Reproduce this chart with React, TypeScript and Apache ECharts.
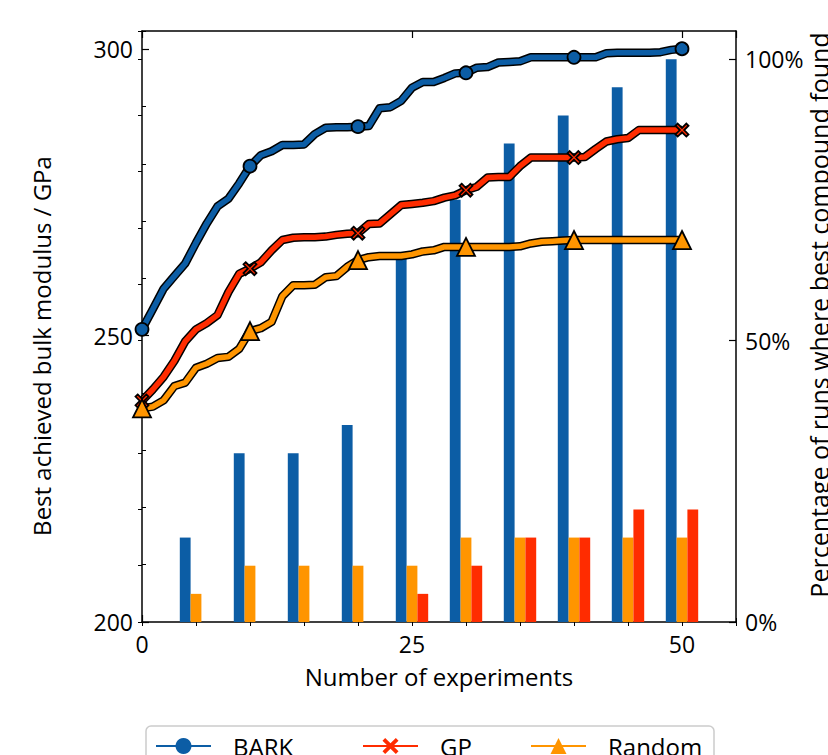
import React, { useEffect, useRef } from 'react';
import * as echarts from 'echarts';

// Experiment index (x) for the best-so-far curves
const experiments: number[] = Array.from({ length: 51 }, (_, i) => i);

const barkBest = [
  251.1, 254.6, 258.2, 260.4, 262.6, 266.2, 269.6, 272.6, 273.9, 276.6,
  279.6, 281.5, 282.2, 283.3, 283.3, 283.4, 285.2, 286.3, 286.4, 286.4,
  286.5, 286.6, 289.7, 289.9, 291.0, 293.3, 294.3, 294.3, 295.0, 295.8,
  295.9, 296.8, 296.9, 297.7, 297.8, 297.9, 298.6, 298.6, 298.6, 298.6,
  298.6, 298.6, 298.6, 299.3, 299.4, 299.4, 299.4, 299.4, 299.5, 299.9,
  300.1,
];
const gpBest = [
  238.6, 240.6, 242.8, 245.6, 249.0, 251.1, 252.2, 253.6, 257.6, 260.8,
  261.7, 262.8, 264.9, 266.7, 267.1, 267.2, 267.2, 267.3, 267.6, 267.8,
  267.9, 269.5, 269.6, 271.2, 272.8, 273.0, 273.2, 273.5, 274.1, 274.5,
  275.4, 276.0, 277.6, 277.7, 277.7, 279.6, 281.1, 281.1, 281.1, 281.1,
  281.1, 281.2, 282.6, 283.9, 284.3, 284.5, 285.9, 285.9, 285.9, 285.9,
  285.9,
];
const randomBest = [
  237.3, 237.6, 238.7, 241.2, 241.8, 244.4, 245.1, 246.1, 246.3, 247.7,
  250.8, 251.3, 252.4, 256.9, 258.8, 258.8, 258.9, 260.2, 260.4, 262.0,
  263.2, 263.7, 263.9, 263.9, 263.9, 264.2, 264.7, 264.9, 265.5, 265.5,
  265.5, 265.5, 265.5, 265.5, 265.5, 265.6, 266.1, 266.4, 266.5, 266.6,
  266.7, 266.7, 266.7, 266.7, 266.7, 266.7, 266.7, 266.7, 266.7, 266.7,
  266.7,
];

// Percentage of runs where the best compound was found, at checkpoints
const checkpoints = [5, 10, 15, 20, 25, 30, 35, 40, 45, 50];
const barkFound = [15, 30, 30, 35, 65, 75, 85, 90, 95, 100];
const randomFound = [5, 10, 10, 10, 10, 15, 15, 15, 15, 15];
const gpFound = [0, 0, 0, 0, 5, 10, 15, 15, 20, 20];

const seriesNames = ['BARK', 'GP', 'Random'];
const colors = ['#0C5DA5', '#FF2C00', '#FF9500'];

const leftTitle = 'Best achieved bulk modulus / GPa';
const rightTitle = 'Percentage of runs where best compound found';
const bottomTitle = 'Number of experiments';

const FONT = "'Open Sans', 'Noto Sans', sans-serif";
const FS_TICK = 23;
const FS_NAME = 24;

const X_PATH =
  'path://M2,0 L6,4 L10,0 L12,2 L8,6 L12,10 L10,12 L6,8 L2,12 L0,10 L4,6 L0,2 Z';

export default function App() {
  const ref = useRef<HTMLDivElement>(null);

  useEffect(() => {
    if (!ref.current) return;
    const chart = echarts.init(ref.current, undefined, { renderer: 'svg' });

    const tickMajor = { show: true, inside: true, length: 7, lineStyle: { color: '#000', width: 1.2 } };
    const tickMinor = { show: true, inside: true, length: 4, lineStyle: { color: '#000', width: 1 } };
    const axisLineOn = { show: true, onZero: false, lineStyle: { color: '#000', width: 1.5 } };
    const axisLineOff = { show: false };
    const tickLabelStyle = { color: '#000', fontSize: FS_TICK, fontFamily: FONT };
    const nameStyle = { color: '#000', fontSize: FS_NAME, fontFamily: FONT };

    const curves = [barkBest, gpBest, randomBest];
    const symbols = ['circle', X_PATH, 'triangle'];
    const symSizes = [13, 13, 18];

    const barSets = [
      { data: barkFound, color: colors[0], offset: -1 },
      { data: randomFound, color: colors[2], offset: 0 },
      { data: gpFound, color: colors[1], offset: 1 },
    ];

    const series: any[] = [];
    barSets.forEach((b) => {
      series.push({
        type: 'bar',
        xAxisIndex: 0,
        yAxisIndex: 2,
        barWidth: 10.8,
        barGap: '-100%',
        itemStyle: { color: b.color },
        data: checkpoints.map((c, i) => [c + b.offset, b.data[i]]),
        z: 1,
        silent: true,
      });
    });
    curves.forEach((arr) => {
      series.push({
        type: 'line',
        xAxisIndex: 0,
        yAxisIndex: 0,
        showSymbol: false,
        lineStyle: { color: '#000', width: 8.5, join: 'round', cap: 'butt' },
        data: experiments.map((x, i) => [x, arr[i]]),
        z: 3,
        silent: true,
      });
    });
    curves.forEach((arr, k) => {
      series.push({
        name: seriesNames[k],
        type: 'line',
        xAxisIndex: 0,
        yAxisIndex: 0,
        symbol: symbols[k],
        showAllSymbol: true,
        symbolSize: (_v: any, p: any) => (p.dataIndex % 10 === 0 ? symSizes[k] : 0),
        lineStyle: { color: colors[k], width: 5.5, join: 'round', cap: 'butt' },
        itemStyle: { color: colors[k], borderColor: '#000', borderWidth: 1.8 },
        data: experiments.map((x, i) => [x, arr[i]]),
        z: 4,
        silent: true,
      });
    });

    const legendLefts = [155, 362, 530];
    const legends = seriesNames.map((n, k) => ({
      data: [n],
      left: legendLefts[k],
      top: 734,
      padding: 0,
      itemWidth: 55,
      itemHeight: 20,
      selectedMode: false,
      lineStyle: { width: 2 },
      itemStyle: { borderWidth: 0 },
      textStyle: { color: '#000', fontSize: FS_NAME, fontFamily: FONT, padding: [0, 0, 0, 17] },
    }));

    const titleText = (text: string, x: number, y: number, size: number) => ({
      type: 'text',
      x,
      y,
      rotation: Math.PI / 2,
      z: 10,
      style: {
        text,
        fill: '#000',
        fontSize: size,
        fontFamily: FONT,
        align: 'center',
        verticalAlign: 'middle',
      },
    });

    chart.setOption({
      animation: false,
      backgroundColor: '#fff',
      grid: { left: 142, right: 92, top: 31, bottom: 133, containLabel: false, outerBoundsMode: 'none' },
      xAxis: [
        {
          type: 'value', min: 0, max: 55, interval: 25, position: 'bottom',
          axisLine: axisLineOn, axisTick: tickMajor,
          axisLabel: { ...tickLabelStyle, margin: 10, showMaxLabel: false },
          splitLine: { show: false },
          name: bottomTitle, nameLocation: 'middle', nameGap: 42,
          nameTextStyle: nameStyle,
        },
        {
          type: 'value', min: 0, max: 55, interval: 5, position: 'bottom',
          axisLine: axisLineOff, axisTick: tickMinor, axisLabel: { show: false }, splitLine: { show: false },
        },
        {
          type: 'value', min: 0, max: 55, interval: 25, position: 'top',
          axisLine: axisLineOn, axisTick: tickMajor, axisLabel: { show: false }, splitLine: { show: false },
        },
        {
          type: 'value', min: 0, max: 55, interval: 5, position: 'top',
          axisLine: axisLineOff, axisTick: tickMinor, axisLabel: { show: false }, splitLine: { show: false },
        },
      ],
      yAxis: [
        {
          type: 'value', min: 200, max: 303.2, interval: 50, position: 'left',
          axisLine: axisLineOn, axisTick: tickMajor,
          axisLabel: { ...tickLabelStyle, margin: 9, showMaxLabel: false },
          splitLine: { show: false },
        },
        {
          type: 'value', min: 200, max: 303.2, interval: 10, position: 'left',
          axisLine: axisLineOff, axisTick: tickMinor, axisLabel: { show: false }, splitLine: { show: false },
        },
        {
          type: 'value', min: 0, max: 105, interval: 50, position: 'right',
          axisLine: axisLineOn, axisTick: tickMajor,
          axisLabel: { ...tickLabelStyle, margin: 9, showMaxLabel: false, formatter: '{value}%' },
          splitLine: { show: false },
        },
        {
          type: 'value', min: 0, max: 105, interval: 10, position: 'right',
          axisLine: axisLineOff, axisTick: tickMinor, axisLabel: { show: false }, splitLine: { show: false },
        },
      ],
      legend: legends,
      graphic: [
        {
          type: 'rect',
          z: 0,
          shape: { x: 146, y: 726, width: 568, height: 60, r: 5 },
          style: { fill: '#fff', stroke: '#cccccc', lineWidth: 1.5 },
        },
        titleText(leftTitle, 41, 346, FS_NAME),
        titleText(rightTitle, 819, 315, 25),
      ],
      series,
    });

    return () => chart.dispose();
  }, []);

  return (
    <div
      ref={ref}
      style={{ position: 'fixed', left: 0, top: 0, width: 828, height: 755, background: '#fff' }}
    />
  );
}
